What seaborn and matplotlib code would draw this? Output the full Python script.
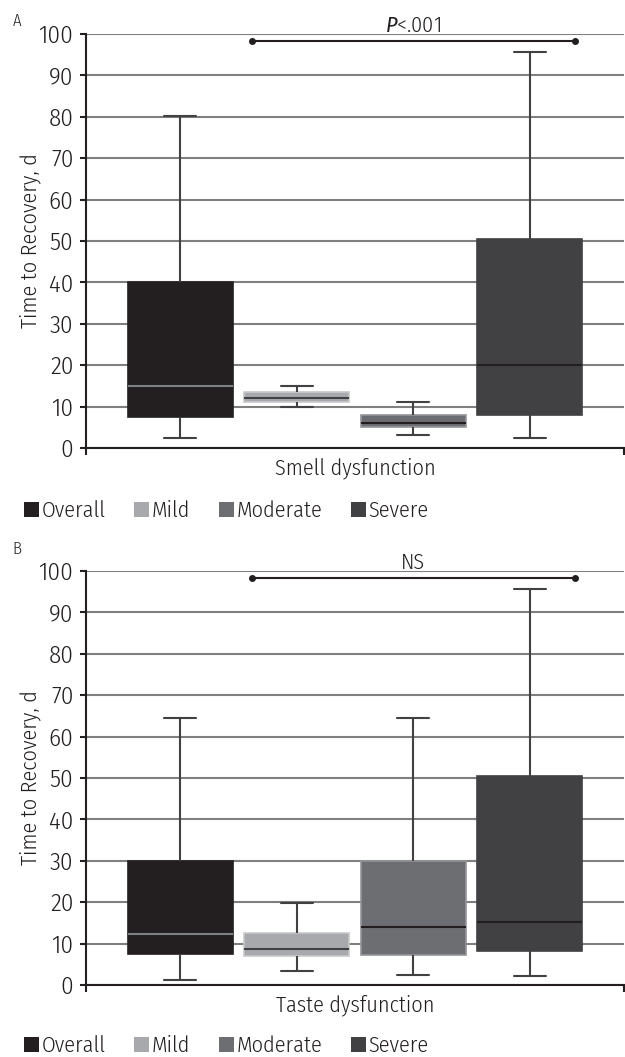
import numpy as np
import pandas as pd
import matplotlib
matplotlib.use('Agg')
import matplotlib.pyplot as plt
import seaborn as sns
from matplotlib import font_manager as fm
from matplotlib.patches import Patch

# severity groups and fill colours
levels = ['Overall', 'Mild', 'Moderate', 'Severe']
palette = ['#231f20', '#a7a9ac', '#6d6e71', '#414042']

# five-number summaries: low whisker, Q1, median, Q3, high whisker
smell_overall = [2.4, 7.4, 15, 40, 80.3]
smell_mild = [10, 11.2, 12.1, 13.5, 14.9]
smell_moderate = [3.2, 5.1, 6, 8, 11]
smell_severe = [2.3, 8, 20, 50.5, 95.6]

taste_overall = [1.2, 7.4, 12.3, 30, 64.5]
taste_mild = [3.3, 7.1, 8.7, 12.6, 19.8]
taste_moderate = [2.3, 7.2, 14, 30, 64.5]
taste_severe = [2.1, 8.1, 15.1, 50.5, 95.6]

y_ticks = list(range(0, 101, 10))
bracket_x = [-0.191, 0.409]
bracket_y = 98.2

sns.set_theme(style='white')

# a light condensed face, close to the original typesetting
prefs = ['Fira Sans Condensed', 'Open Sans Condensed', 'Asap Condensed',
         'Archivo Narrow', 'PT Sans Narrow', 'Barlow Semi Condensed', 'DejaVu Sans']
avail = {f.name for f in fm.fontManager.ttflist}
font_name = next(p for p in prefs if p in avail)
W = 350
plt.rcParams['font.family'] = [font_name, 'DejaVu Sans']
plt.rcParams['font.weight'] = W
plt.rcParams['axes.labelweight'] = W
plt.rcParams['mathtext.fontset'] = 'custom'
plt.rcParams['mathtext.it'] = font_name + ':style=italic'
plt.rcParams['mathtext.rm'] = font_name
plt.rcParams['text.color'] = '#231f20'

FS = 16
FS_TICK = 18
fig = plt.figure(figsize=(6.25, 10.57), dpi=100)
ax_a = fig.add_axes([86 / 625, 1 - 448 / 1057, 538 / 625, 414 / 1057])
ax_b = fig.add_axes([86 / 625, 1 - 985 / 1057, 538 / 625, 414 / 1057])


def draw_panel(ax, groups, category, sig_label):
    df = pd.DataFrame({
        'group': [category] * 20,
        'severity': np.repeat(levels, 5),
        'days': np.concatenate(groups),
    })
    sns.boxplot(data=df, x='group', y='days', hue='severity', hue_order=levels,
                palette=palette, saturation=1, width=0.866, gap=0.1,
                whis=(0, 100), linewidth=1.5, linecolor='#414042',
                fliersize=0, legend=False, ax=ax)

    medians = ['#808285', '#414042', '#231f20', '#231f20']
    edges = ['#231f20', '#c7c8ca', '#939598', '#414042']
    for cont, mc, ec in zip(ax.containers, medians, edges):
        for b in getattr(cont, 'boxes', []):
            b.set_edgecolor(ec)
            b.set_linewidth(1.2)
        for m in getattr(cont, 'medians', []):
            m.set_color(mc)
            m.set_linewidth(1.5)
        for c in getattr(cont, 'caps', []):
            xd = np.asarray(c.get_xdata(), dtype=float)
            mid = xd.mean()
            c.set_xdata([mid - 0.03, mid + 0.03])

    ax.set_ylim(0, 100)
    ax.set_yticks(y_ticks)
    ax.set_xlim(-0.5, 0.5)
    ax.yaxis.grid(True, color='#7f7f7f', linewidth=1.5)
    ax.xaxis.grid(False)
    ax.set_axisbelow(True)
    for s in ['top', 'right']:
        ax.spines[s].set_visible(False)
    for s in ['left', 'bottom']:
        ax.spines[s].set_color('#231f20')
        ax.spines[s].set_linewidth(1.5)

    ax.set_xticks([0])
    ax.set_xticklabels([category])
    ax.set_xticks([-0.5, 0.5], minor=True)
    ax.tick_params(axis='x', which='major', length=0, pad=7, labelsize=FS,
                   labelcolor='#231f20')
    ax.tick_params(axis='x', which='minor', length=5, width=1.5,
                   color='#231f20', direction='out', bottom=True)
    ax.tick_params(axis='y', length=4, width=1.5, color='#231f20', pad=5,
                   labelsize=FS_TICK, labelcolor='#231f20', left=True)
    ax.set_xlabel('')
    ax.set_ylabel('Time to Recovery, d', fontsize=FS, color='#231f20',
                  fontweight=W)
    ax.yaxis.set_label_coords(-0.084, 0.5)

    # significance bracket
    ax.plot(bracket_x, [bracket_y, bracket_y], color='#231f20', linewidth=1.5,
            marker='o', markersize=4, clip_on=False, zorder=5)
    ax.text(0.107, 100.4, sig_label, ha='center', va='baseline', fontsize=FS,
            color='#231f20', clip_on=False)


draw_panel(ax_a, [smell_overall, smell_mild, smell_moderate, smell_severe],
           'Smell dysfunction', r'$\mathit{P}$<.001')
draw_panel(ax_b, [taste_overall, taste_mild, taste_moderate, taste_severe],
           'Taste dysfunction', 'NS')

handles = [Patch(facecolor=c, edgecolor='none', label=l) for c, l in zip(palette, levels)]
for ypix in [511, 1046]:
    fig.legend(handles=handles, loc='center left',
               bbox_to_anchor=(24 / 625, 1 - ypix / 1057),
               bbox_transform=fig.transFigure, ncol=4, frameon=False,
               prop={'size': FS, 'weight': W}, handlelength=0.68,
               handleheight=0.68, handletextpad=0.1, columnspacing=1.3,
               borderpad=0, borderaxespad=0)

fig.text(17 / 625, 1 - 21 / 1057, 'A', fontsize=12, ha='center', va='center')
fig.text(17 / 625, 1 - 549 / 1057, 'B', fontsize=12, ha='center', va='center')

fig.savefig('out.png', dpi=100)
